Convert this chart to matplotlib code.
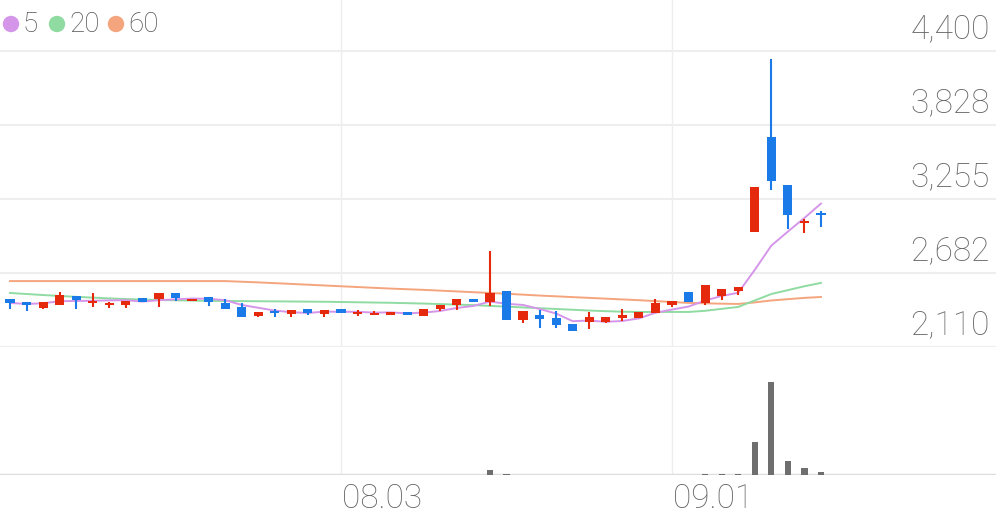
import matplotlib
matplotlib.use("Agg")
import matplotlib.pyplot as plt
import numpy as np
import pandas as pd

opens  = [2312,2288,2242,2265,2335,2281,2265,2265,2320,2312,2358,2296,2327,2281,2250,2180,2219,2195,2234,2195,
          2234,2195,2188,2188,2211,2180,2234,2265,2312,2288,2374,2149,2188,2164,2118,2133,2133,2164,2164,2203,
          2265,2366,2281,2335,2374,2832,3569,3196,2902,2975]
highs  = [2312,2288,2288,2366,2335,2358,2285,2296,2322,2358,2358,2312,2327,2312,2281,2211,2234,2226,2234,2226,
          2234,2226,2219,2211,2211,2234,2265,2312,2312,2684,2374,2219,2226,2219,2118,2211,2172,2234,2211,2312,
          2296,2366,2420,2389,2405,3181,4166,3196,2933,2995]
lows   = [2234,2219,2234,2265,2234,2250,2242,2242,2285,2250,2296,2293,2257,2234,2172,2172,2172,2172,2188,2172,
          2200,2180,2188,2188,2188,2180,2219,2226,2288,2257,2149,2126,2087,2087,2063,2079,2126,2141,2164,2203,
          2250,2288,2265,2304,2343,2832,3158,2855,2824,2870]
closes = [2281,2265,2288,2343,2304,2288,2281,2296,2288,2358,2320,2312,2288,2234,2172,2211,2203,2226,2203,2226,
          2203,2203,2195,2211,2188,2234,2265,2312,2288,2358,2149,2219,2157,2110,2063,2172,2172,2188,2211,2281,
          2296,2288,2420,2389,2405,3181,3227,2964,2917,2960]
volumes = [0.3,0.3,0.3,0.3,0.3,0.3,0.3,0.3,0.3,0.3,0.3,0.3,0.5,0.5,0.5,0.3,0.3,0.3,0.3,0.3,
           0.3,0.3,0.3,0.3,0.3,0.3,0.3,0.3,0.3,5,1,0.5,0.5,0.5,0.3,0.3,0.3,0.3,0.3,0.3,
           0.3,0.5,0.7,0.8,1,33,93,14,7,3.5]
ma20 = [2358,2350,2342,2335,2328,2322,2316,2311,2307,2304,2301,2299,2297,2296,2295,2294,2293,2292,2291,2290,
        2288,2286,2284,2282,2279,2276,2272,2268,2264,2258,2252,2246,2240,2234,2228,2222,2217,2213,2211,2211,
        2211,2211,2220,2235,2250,2300,2350,2380,2410,2436]
ma60 = [2450,2450,2450,2450,2450,2450,2450,2450,2450,2450,2450,2450,2450,2450,2445,2440,2434,2428,2422,2416,
        2410,2404,2398,2392,2387,2382,2376,2370,2364,2358,2352,2345,2338,2332,2326,2320,2314,2308,2302,2295,
        2288,2281,2278,2275,2273,2285,2300,2310,2320,2327]
ma5 = pd.Series(closes).rolling(5, min_periods=1).mean().values
price_ticks = [2110, 2682, 3255, 3828, 4400]
date_labels = ["08.03", "09.01"]
date_idx = [20, 40]

RED, BLUE = "#e5290c", "#1a7be8"
C5, C20, C60 = "#d596ea", "#8fdba2", "#f5a57d"
W, H = 996, 519
fig = plt.figure(figsize=(W/100, H/100), dpi=100)
xlim = (-10/16.55, (W-10)/16.55)
ax = fig.add_axes([0, (H-347)/H, 1, 347/H])
axv = fig.add_axes([0, 44/H, 1, 125/H])
ppx = (3255-2682)/74.0
ybot = 2110 - 22*ppx
ax.set_ylim(ybot, ybot + 347*ppx)
for a in (ax, axv):
    a.set_xlim(*xlim)
    a.axis("off")
    for d in date_idx:
        a.axvline(d, color="#eeeeee", lw=1, zorder=0)
x = np.arange(len(opens))
for p in price_ticks:
    ax.axhline(p - 22*ppx, color="#eeeeee", lw=1.5, zorder=0)
    ax.text(x=(W-6)/16.55 - 10/16.55, y=p, s=f"{p:,}", ha="right", va="center",
            fontsize=24, color="#666666", family="Roboto", fontweight="light")
for i in x:
    c = RED if closes[i] >= opens[i] else BLUE
    ax.vlines(i, lows[i], highs[i], color=c, lw=1.5, zorder=3)
    lo, hi = min(opens[i], closes[i]), max(opens[i], closes[i])
    ax.bar(i, max(hi-lo, 15), bottom=lo, width=0.55, color=c, zorder=4)
ax.plot(x, ma60, color=C60, lw=1.4, zorder=2)
ax.plot(x, ma20, color=C20, lw=1.4, zorder=2)
ax.plot(x, ma5, color=C5, lw=1.4, zorder=2)

axv.set_ylim(0, 125)
axv.bar(x, volumes, width=0.38, color="#6e6e6e", zorder=3)
axv.axhline(0, color="#dddddd", lw=2.5, zorder=2)
for d, lab in zip(date_idx, date_labels):
    fig.text((10 + 16.55*d + 1)/W, 20/H, lab, ha="left", va="center", fontsize=24,
             color="#666666", family="Roboto", fontweight="light")

lx = 11
for col, lab in [(C5, "5"), (C20, "20"), (C60, "60")]:
    fig.patches.append(matplotlib.patches.Ellipse((lx/W, (H-24)/H), 15/W, 15/H, transform=fig.transFigure,
                                                  color=col))
    fig.text((lx+12)/W, (H-24)/H, lab, ha="left", va="center", fontsize=20, color="#555555",
             family="Roboto", fontweight="light")
    lx += 12 + 13*len(lab) + 21
fig.savefig("out.png", dpi=100)
